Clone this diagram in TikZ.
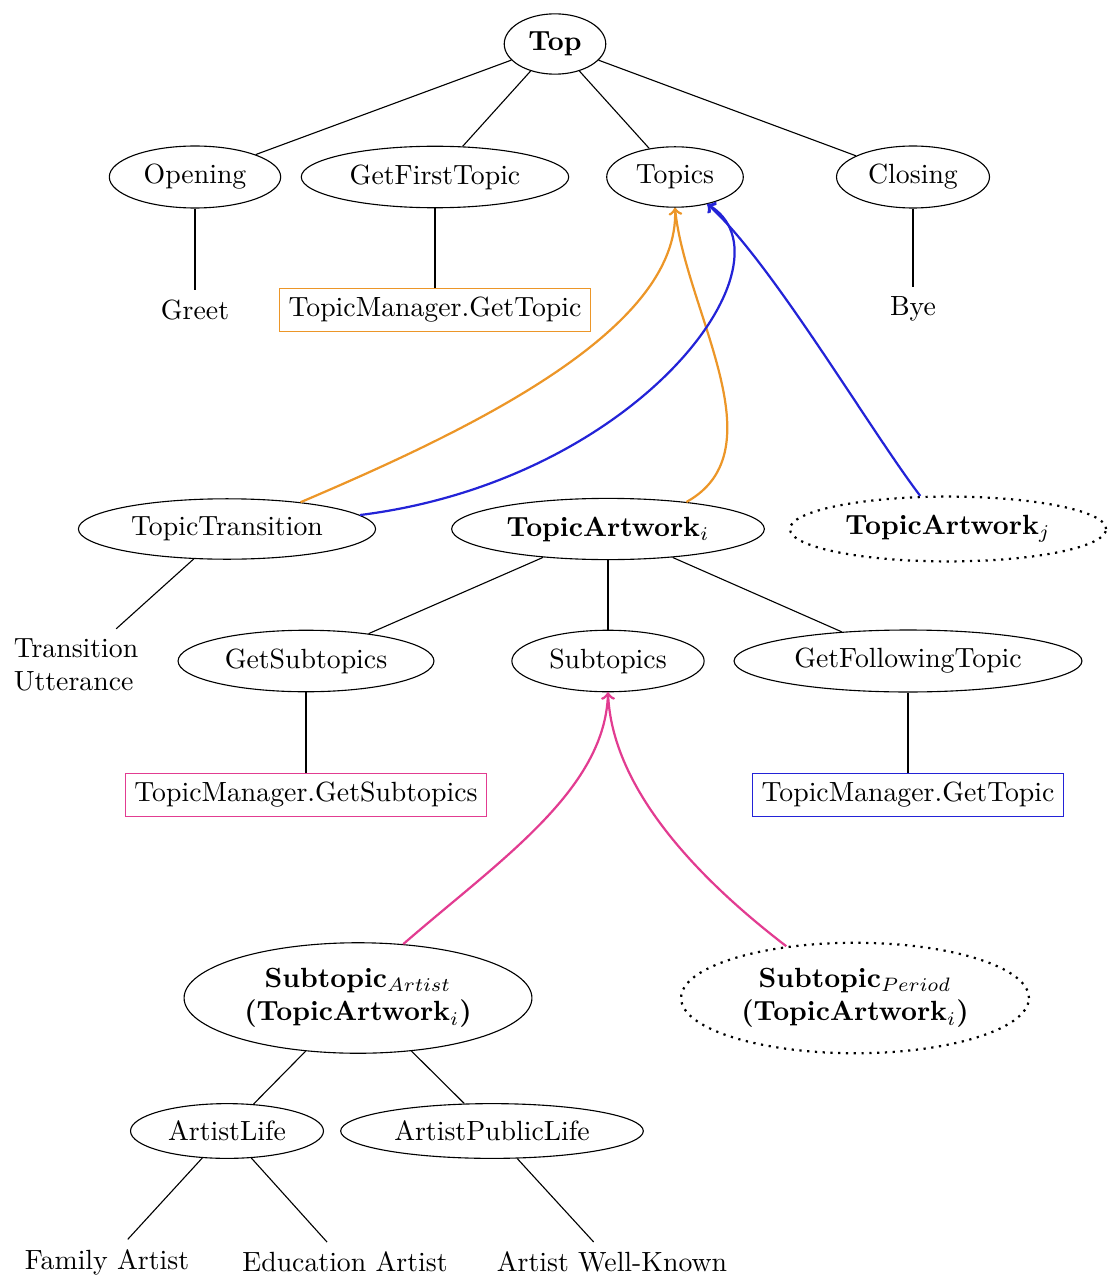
\documentclass[tikz,border=0pt]{standalone}
\usetikzlibrary{shapes.geometric}
\definecolor{callorange}{RGB}{236,150,40}
\definecolor{callblue}{RGB}{35,35,215}
\definecolor{callpink}{RGB}{226,60,145}

\begin{document}
\begin{tikzpicture}[x=0.36pt,y=0.36pt,yscale=-1,xscale=1,
  tnode/.style={ellipse,draw},
  tdots/.style={ellipse,draw,dotted,thick},
  leaf/.style={align=center},
  callbox/.style={draw,rectangle},
  link/.style={->,thick}]
\useasboundingbox (0,0) rectangle (1112,1278);

% Level 0
\node [tnode] (top) at (555,44) {\textbf{Top}};

% Level 1
\node [tnode] (opening) at (195,177) {Opening};
\node [tnode] (getfirst) at (435,177) {GetFirstTopic};
\node [tnode] (topics) at (675,177) {Topics};
\node [tnode] (closing) at (913,177) {Closing};

% Level 1 leaves
\node [leaf] (greet) at (195,310) {Greet};
\node [callbox,draw=callorange] (getfirstcall) at (435,310) {TopicManager.GetTopic};
\node [leaf] (bye) at (913,309) {Bye};

% Topic nodes
\node [tnode] (transition) at (227,529) {TopicTransition};
\node [tnode] (artworki) at (608,529) {\textbf{TopicArtwork}$_i$};
\node [tdots] (artworkj) at (948,529) {\textbf{TopicArtwork}$_j$};

% Level 3
\node [leaf,align=left] (utterance) at (76,665) {Transition\\Utterance};
\node [tnode] (getsub) at (306,661) {GetSubtopics};
\node [tnode] (subtopics) at (608,661) {Subtopics};
\node [tnode] (getfollow) at (908,661) {GetFollowingTopic};

% Calls
\node [callbox,draw=callpink] (getsubcall) at (306,795) {TopicManager.GetSubtopics};
\node [callbox,draw=callblue] (getfollowcall) at (908,795) {TopicManager.GetTopic};

% Subtopic nodes
\node [tnode,align=center] (subartist) at (358,998) {\textbf{Subtopic}$_{Artist}$\\\textbf{(TopicArtwork}$_i$\textbf{)}};
\node [tdots,align=center] (subperiod) at (855,998) {\textbf{Subtopic}$_{Period}$\\\textbf{(TopicArtwork}$_i$\textbf{)}};

% Level 5
\node [tnode] (artistlife) at (227,1131) {ArtistLife};
\node [tnode] (publiclife) at (492,1131) {ArtistPublicLife};

% Level 6 leaves
\node [leaf] (family) at (107,1262) {Family Artist};
\node [leaf] (education) at (345,1262) {Education Artist};
\node [leaf] (wellknown) at (612,1262) {Artist Well-Known};

% Tree edges
\draw (top) -- (opening);
\draw (top) -- (getfirst);
\draw (top) -- (topics);
\draw (top) -- (closing);
\draw (opening) -- (greet);
\draw (getfirst) -- (getfirstcall);
\draw (closing) -- (bye);
\draw (transition) -- (utterance);
\draw (artworki) -- (getsub);
\draw (artworki) -- (subtopics);
\draw (artworki) -- (getfollow);
\draw (getsub) -- (getsubcall);
\draw (getfollow) -- (getfollowcall);
\draw (subartist) -- (artistlife);
\draw (subartist) -- (publiclife);
\draw (artistlife) -- (family);
\draw (artistlife) -- (education);
\draw (publiclife) -- (wellknown);

% Orange links
\draw [link,callorange] (transition.20) .. controls (470,430) and (680,330) .. (topics.south);
\draw [link,callorange] (artworki.19) .. controls (780,450) and (685,310) .. (topics.south);
% Blue links
\draw [link,callblue] (transition.6) .. controls (640,480) and (800,260) .. (topics.-40);
\draw [link,callblue] (artworkj.130) .. controls (870,430) and (770,260) .. (topics.-40);
% Pink links
\draw [link,callpink] (subartist.50) .. controls (500,860) and (605,790) .. (subtopics.south);
\draw [link,callpink] (subperiod.143) .. controls (700,880) and (612,790) .. (subtopics.south);

\end{tikzpicture}
\end{document}
